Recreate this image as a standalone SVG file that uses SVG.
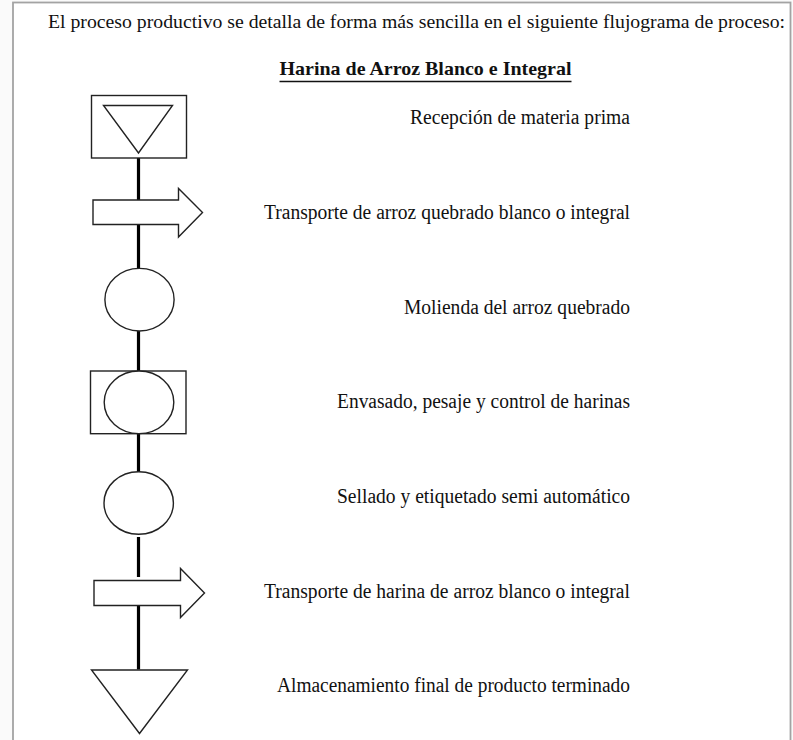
<svg xmlns="http://www.w3.org/2000/svg" width="793" height="740" viewBox="0 0 793 740">
<style>
.sh{fill:#fff;stroke:#222;stroke-width:1.4}
.cn{stroke:#000;stroke-width:3.2;fill:none}
.t{font-family:"Liberation Serif","Times New Roman",serif;font-size:20.5px;fill:#111}
.lb{text-anchor:end}
.h{font-weight:bold;text-anchor:middle;font-size:19px}
</style>
<rect x="0" y="0" width="793" height="740" fill="#fafafa"/>
<rect x="13" y="2.5" width="777.5" height="745" fill="#fff" stroke="#a3a3a3" stroke-width="1.8"/>
<text class="t" x="48" y="28.3" style="font-size:19.5px" textLength="737" lengthAdjust="spacingAndGlyphs">El proceso productivo se detalla de forma más sencilla en el siguiente flujograma de proceso:</text>
<g id="subtitle">
<text class="t h" x="425.5" y="75" textLength="292" lengthAdjust="spacingAndGlyphs">Harina de Arroz Blanco e Integral</text>
<line x1="279.5" y1="81.5" x2="571.5" y2="81.5" stroke="#111" stroke-width="1.6"/>
</g>
<g id="connectors">
<line class="cn" x1="138.5" y1="158" x2="138.5" y2="200"/>
<line class="cn" x1="138.5" y1="224.5" x2="138.5" y2="268.5"/>
<line class="cn" x1="138.5" y1="331" x2="138.5" y2="371"/>
<line class="cn" x1="138.5" y1="433.5" x2="138.5" y2="472"/>
<line class="cn" x1="138.5" y1="537" x2="138.5" y2="577"/>
<line class="cn" x1="138.5" y1="605.5" x2="138.5" y2="669.5"/>
</g>
<g id="n1">
<rect class="sh" x="91.5" y="95.5" width="95" height="62.5"/>
<polygon class="sh" points="103.5,105.5 172.5,105.5 138.5,153"/>
<text class="t lb" x="630" y="124" textLength="220" lengthAdjust="spacingAndGlyphs">Recepción de materia prima</text>
</g>
<g id="n2">
<polygon class="sh" points="93,200 178.5,200 178.5,188.5 202.5,212.5 178.5,237 178.5,224.5 93,224.5"/>
<text class="t lb" x="630" y="218.5" textLength="366" lengthAdjust="spacingAndGlyphs">Transporte de arroz quebrado blanco o integral</text>
</g>
<g id="n3">
<ellipse class="sh" cx="139.5" cy="299.7" rx="34.6" ry="31.3"/>
<text class="t lb" x="630" y="313.5" textLength="226" lengthAdjust="spacingAndGlyphs">Molienda del arroz quebrado</text>
</g>
<g id="n4">
<rect class="sh" x="90.5" y="371" width="95.5" height="62.7"/>
<ellipse class="sh" cx="139" cy="402.3" rx="34.8" ry="31.3"/>
<text class="t lb" x="630" y="407.5" textLength="293" lengthAdjust="spacingAndGlyphs">Envasado, pesaje y control de harinas</text>
</g>
<g id="n5">
<ellipse class="sh" cx="138.7" cy="503" rx="34.7" ry="31.3"/>
<text class="t lb" x="630" y="503" textLength="293" lengthAdjust="spacingAndGlyphs">Sellado y etiquetado semi automático</text>
</g>
<g id="n6">
<polygon class="sh" points="94,580.5 180.5,580.5 180.5,568.5 204.5,593 180.5,617.5 180.5,605.5 94,605.5"/>
<text class="t lb" x="630" y="598" textLength="366" lengthAdjust="spacingAndGlyphs">Transporte de harina de arroz blanco o integral</text>
</g>
<g id="n7">
<polygon class="sh" points="91.5,670 187.5,670 139.5,733.5"/>
<text class="t lb" x="630" y="692" textLength="353" lengthAdjust="spacingAndGlyphs">Almacenamiento final de producto terminado</text>
</g>
</svg>
